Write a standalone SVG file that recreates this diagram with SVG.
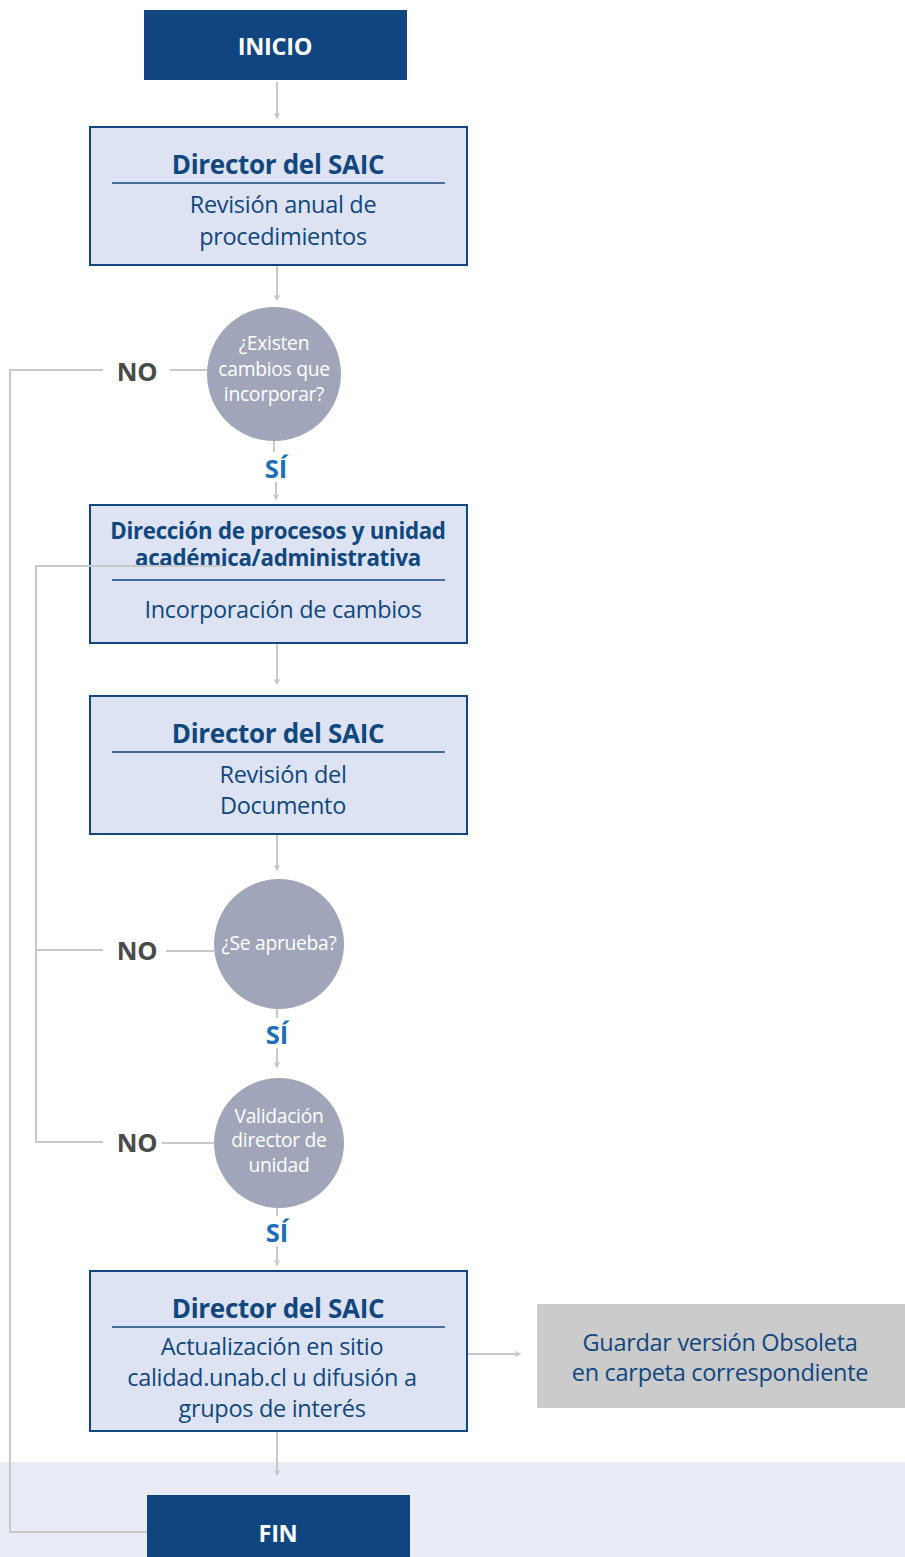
<svg xmlns="http://www.w3.org/2000/svg" width="905" height="1557" viewBox="0 0 905 1557">
<defs>
<style>
.term{fill:#0f4680}
.termt{font-family:"Open Sans","Noto Sans",sans-serif;font-weight:bold;font-size:23.5px;fill:#fff;text-anchor:middle;letter-spacing:-0.3px}
.box{fill:#dde3f2;stroke:#10477f;stroke-width:2}
.sep{stroke:#10477f;stroke-width:1.5}
.ttl{font-family:"Open Sans","Noto Sans",sans-serif;font-weight:bold;font-size:26px;fill:#10477f;text-anchor:middle;letter-spacing:-0.3px}
.ttl2{font-family:"Open Sans","Noto Sans",sans-serif;font-weight:bold;font-size:22.3px;fill:#10477f;text-anchor:middle;letter-spacing:-0.3px}
.txt{font-family:"Open Sans","Noto Sans",sans-serif;font-size:23.5px;fill:#10477f;text-anchor:middle;letter-spacing:-0.3px}
.dec{fill:#a0a5ba}
.dect{font-family:"Open Sans","Noto Sans",sans-serif;font-size:19.3px;fill:#fff;text-anchor:middle;letter-spacing:-0.3px}
.no{font-family:"Open Sans","Noto Sans",sans-serif;font-weight:bold;font-size:25.5px;fill:#4a4a4a;text-anchor:middle;letter-spacing:-0.3px}
.si{font-family:"Open Sans","Noto Sans",sans-serif;font-weight:bold;font-size:25.5px;fill:#1d6eb8;text-anchor:middle}
.ln{fill:none;stroke:#c8c8c8;stroke-width:2}
.ar{fill:none;stroke:#c8c8c8;stroke-width:2;marker-end:url(#ah)}
</style>
<marker id="ah" viewBox="0 0 10 10" refX="9" refY="5" markerWidth="6" markerHeight="6" orient="auto" markerUnits="userSpaceOnUse">
<polyline points="1,1 9,5 1,9" fill="none" stroke="#c8c8c8" stroke-width="2"/>
</marker>
</defs>
<rect x="0" y="1462" width="905" height="95" fill="#e9ebf7"/>

<g id="inicio">
<rect class="term" x="144" y="10" width="263" height="70"/>
<text class="termt" x="275" y="55">INICIO</text>
</g>

<g id="n1">
<rect class="box" x="90" y="127" width="377" height="138"/>
<text class="ttl" x="278" y="174">Director del SAIC</text>
<line class="sep" x1="112" y1="183" x2="445" y2="183"/>
<text class="txt" x="283" y="213">Revisión anual de</text>
<text class="txt" x="283" y="245">procedimientos</text>
</g>

<g id="d1">
<circle class="dec" cx="274" cy="374" r="67"/>
<text class="dect" x="274" y="350">¿Existen</text>
<text class="dect" x="274" y="376">cambios que</text>
<text class="dect" x="274" y="401">incorporar?</text>
</g>

<g id="n2">
<rect class="box" x="90" y="505" width="377" height="138"/>
<text class="ttl2" x="278" y="539">Dirección de procesos y unidad</text>
<text class="ttl2" x="278" y="566">académica/administrativa</text>
<line class="sep" x1="112" y1="580" x2="445" y2="580"/>
<text class="txt" x="283" y="618">Incorporación de cambios</text>
</g>

<g id="n3">
<rect class="box" x="90" y="696" width="377" height="138"/>
<text class="ttl" x="278" y="743">Director del SAIC</text>
<line class="sep" x1="112" y1="752" x2="445" y2="752"/>
<text class="txt" x="283" y="783">Revisión del</text>
<text class="txt" x="283" y="814">Documento</text>
</g>

<g id="d2">
<circle class="dec" cx="279" cy="944" r="65"/>
<text class="dect" x="279" y="950">¿Se aprueba?</text>
</g>

<g id="d3">
<circle class="dec" cx="279" cy="1143" r="65"/>
<text class="dect" x="279" y="1123">Validación</text>
<text class="dect" x="279" y="1147">director de</text>
<text class="dect" x="279" y="1172">unidad</text>
</g>

<g id="n4">
<rect class="box" x="90" y="1271" width="377" height="160"/>
<text class="ttl" x="278" y="1318">Director del SAIC</text>
<line class="sep" x1="112" y1="1327" x2="445" y2="1327"/>
<text class="txt" x="272" y="1355">Actualización en sitio</text>
<text class="txt" x="272" y="1386">calidad.unab.cl u difusión a</text>
<text class="txt" x="272" y="1417">grupos de interés</text>
</g>

<g id="obsoleta">
<rect x="537" y="1304" width="368" height="104" fill="#cbcbcb"/>
<text class="txt" x="720" y="1351">Guardar versión Obsoleta</text>
<text class="txt" x="720" y="1381">en carpeta correspondiente</text>
</g>

<g id="fin">
<rect class="term" x="147" y="1495" width="263" height="62"/>
<text class="termt" x="278" y="1542">FIN</text>
</g>

<g id="connectors">
<line class="ar" x1="277" y1="82" x2="277" y2="118"/>
<line class="ar" x1="277" y1="266" x2="277" y2="300"/>
<line class="ln" x1="274" y1="441" x2="274" y2="452"/>
<line class="ar" x1="276" y1="482" x2="276" y2="499"/>
<line class="ar" x1="277" y1="644" x2="277" y2="684"/>
<line class="ar" x1="277" y1="835" x2="277" y2="870"/>
<line class="ln" x1="277" y1="1009" x2="277" y2="1018"/>
<line class="ar" x1="277" y1="1048" x2="277" y2="1067"/>
<line class="ln" x1="277" y1="1208" x2="277" y2="1216"/>
<line class="ar" x1="277" y1="1246" x2="277" y2="1265"/>
<line class="ar" x1="468" y1="1354" x2="520" y2="1354"/>
<line class="ar" x1="277" y1="1432" x2="277" y2="1475"/>
<polyline class="ln" points="103,370 10,370 10,1532 147,1532"/>
<line class="ln" x1="170" y1="370" x2="207" y2="370"/>
<polyline class="ln" points="222,566 36,566 36,1142 103,1142"/>
<line class="ln" x1="36" y1="950" x2="103" y2="950"/>
<line class="ln" x1="166" y1="951" x2="214" y2="951"/>
<line class="ln" x1="162" y1="1143" x2="214" y2="1143"/>
</g>
<g id="labels">
<text class="no" x="137" y="381">NO</text>
<text class="si" x="276" y="478">SÍ</text>
<text class="no" x="137" y="960">NO</text>
<text class="si" x="277" y="1044">SÍ</text>
<text class="no" x="137" y="1152">NO</text>
<text class="si" x="277" y="1242">SÍ</text>
</g>
</svg>
